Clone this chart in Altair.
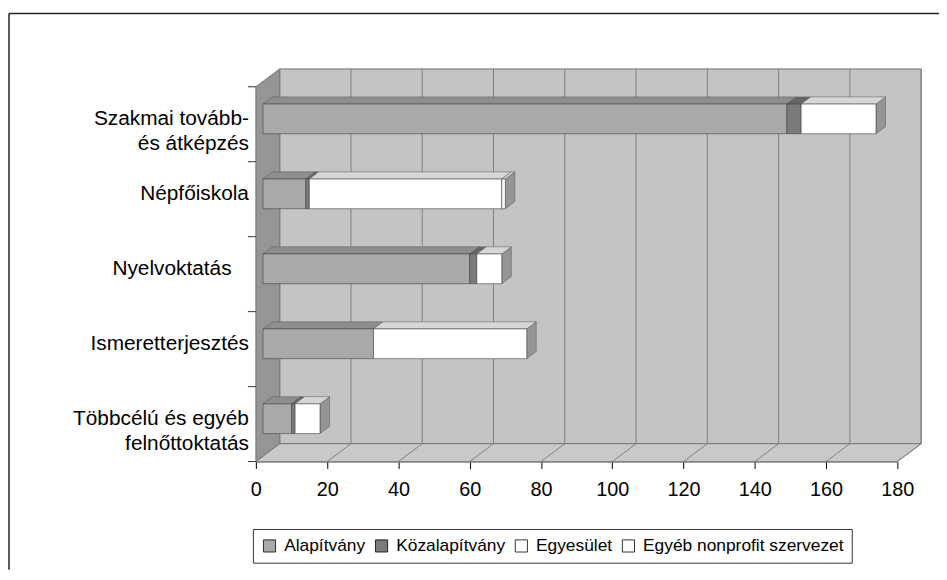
import altair as alt
import pandas as pd

# ---------------- data ----------------
categories = ["Szakmai tovább-\nés átképzés", "Népfőiskola", "Nyelvoktatás\u00a0\u00a0\u00a0\u200b",
              "Ismeretterjesztés", "Többcélú és egyéb\nfelnőttoktatás"]
series = ["Alapítvány", "Közalapítvány", "Egyesület", "Egyéb nonprofit szervezet"]
alapitvany = [147, 12, 58, 31, 8]
kozalapitvany = [4, 1, 2, 0, 1]
egyesulet = [21, 54, 7, 43, 7]
egyeb = [0, 1, 0, 0, 0]
x_ticks = [0, 20, 40, 60, 80, 100, 120, 140, 160, 180]

# ---------------- style ----------------
front_colors = ["#a9a9a9", "#7b7b7b", "#ffffff", "#fbfbfb"]
top_colors = ["#8e8e8e", "#666666", "#d6d6d6", "#d2d2d2"]
side_colors = ["#7a7a7a", "#575757", "#959595", "#959595"]
FONT = "Liberation Sans"

W, H = 647, 378
XMAX = 180
N = len(categories)
KX = XMAX / W
KY = N / H
DX, DY = 24 * KX, 18 * KY      # depth of the 3D box
FX, FY = 7.2 * KX, 5.4 * KY    # bar front-face shift
BX, BY = 9.6 * KX, 7.2 * KY    # bar depth
HALF = 15 * KY                 # half bar thickness

xscale = alt.Scale(domain=[0, XMAX], nice=False, zero=False)
yscale = alt.Scale(domain=[0, N], reverse=True, nice=False, zero=False)
xaxis = alt.Axis(values=x_ticks, title=None, grid=False, labelFontSize=20, labelFont=FONT,
                 labelColor="black", tickColor="black", tickSize=7, domainColor="#6a6a6a",
                 labelPadding=11, labelFlush=False, labelOffset=0)

# ---------------- geometry built from the data ----------------
vals = [alapitvany, kozalapitvany, egyesulet, egyeb]
front, top, side = [], [], []
for i in range(N):
    yc = i + 0.5 - FY
    yt, yb = yc - HALF, yc + HALF
    s = 0
    last = None
    for k, name in enumerate(series):
        v = vals[k][i]
        if v <= 0:
            continue
        e = s + v
        sid = f"{i}-{k}"
        front.append(dict(series=name, x=s + FX, x2=e + FX, y=yt, y2=yb))
        top.append(dict(id=sid, fill=top_colors[k], y=yt, x=s + FX, x2=e + FX))
        top.append(dict(id=sid, fill=top_colors[k], y=yt - BY, x=s + FX + BX, x2=e + FX + BX))
        last = (k, e)
        s = e
    k, e = last
    side.append(dict(id=f"s{i}", fill=side_colors[k], x=e + FX, y=yt, y2=yb))
    side.append(dict(id=f"s{i}", fill=side_colors[k], x=e + FX + BX, y=yt - BY, y2=yb - BY))

front_df = pd.DataFrame(front)
top_df = pd.DataFrame(top)
side_df = pd.DataFrame(side)

wall_df = pd.DataFrame([dict(x=DX, x2=XMAX + DX, y=-DY, y2=N - DY)])
left_df = pd.DataFrame([dict(id="l", x=0, y=0, y2=N), dict(id="l", x=DX, y=-DY, y2=N - DY)])
floor_df = pd.DataFrame([dict(id="f", y=N, x=0, x2=XMAX), dict(id="f", y=N - DY, x=DX, x2=XMAX + DX)])
grid_df = pd.DataFrame([dict(x=v + DX, y=-DY, y2=N - DY) for v in x_ticks])
fgrid_df = pd.DataFrame([dict(v=v, x=v, y=N) for v in x_ticks] +
                        [dict(v=v, x=v + DX, y=N - DY) for v in x_ticks])
lticks_df = pd.DataFrame([dict(y=k) for k in range(N + 1)])
labels_df = pd.DataFrame([dict(label=c, y=i + 0.5 - 5 * KY) for i, c in enumerate(categories)])
one = pd.DataFrame([dict(a=1)])

X = lambda f="x:Q": alt.X(f, scale=xscale, axis=xaxis, stack=None)
Y = lambda f="y:Q": alt.Y(f, scale=yscale, axis=None, stack=None)

wall = alt.Chart(wall_df).mark_rect(fill="#c4c4c4", stroke="#707070", strokeWidth=1).encode(
    x=X(), x2="x2:Q", y=Y(), y2="y2:Q")
leftwall = alt.Chart(left_df).mark_area(orient="vertical", fill="#959595", stroke="#606060",
                                         strokeWidth=0.8).encode(x=X(), y=Y(), y2="y2:Q", detail="id:N")
floor = alt.Chart(floor_df).mark_area(orient="horizontal", fill="#c9c9c9", stroke="#707070",
                                       strokeWidth=0.8).encode(y=Y(), x=X(), x2="x2:Q", detail="id:N")
grid = alt.Chart(grid_df).mark_rule(color="#808080", strokeWidth=1).encode(x=X(), y=Y(), y2="y2:Q")
fgrid = alt.Chart(fgrid_df).mark_line(color="#808080", strokeWidth=1).encode(x=X(), y=Y(), detail="v:N")
lticks = alt.Chart(lticks_df).mark_rule(color="#333333", strokeWidth=1).encode(
    x=alt.value(-8), x2=alt.value(0), y=Y())

sides = alt.Chart(side_df).mark_area(orient="vertical", stroke="#555555", strokeWidth=0.5).encode(
    x=X(), y=Y(), y2="y2:Q", fill=alt.Fill("fill:N", scale=None), detail="id:N")
tops = alt.Chart(top_df).mark_area(orient="horizontal", stroke="#555555", strokeWidth=0.5).encode(
    y=Y(), x=X(), x2="x2:Q", fill=alt.Fill("fill:N", scale=None), detail="id:N")
fronts = alt.Chart(front_df).mark_rect(stroke="#444444", strokeWidth=0.6).encode(
    x=X(), x2="x2:Q", y=Y(), y2="y2:Q",
    color=alt.Color("series:N", scale=alt.Scale(domain=series, range=front_colors),
                    legend=alt.Legend(orient="none", legendX=-3, legendY=446, direction="horizontal",
                                      columns=4, title=None, symbolType="square", symbolSize=150,
                                      symbolStrokeColor="black", symbolStrokeWidth=0.8,
                                      labelFontSize=17.5, labelFont=FONT, labelColor="black",
                                      labelLimit=500, columnPadding=7, padding=8,
                                      strokeColor="#333333", labelOffset=6)))

labels = alt.Chart(labels_df).mark_text(align="right", baseline="middle", fontSize=21, font=FONT,
                                         lineBreak="\n", lineHeight=25, color="black").encode(
    x=alt.value(-7), y=Y(), text="label:N")

frame_top = alt.Chart(one).mark_rule(color="#222222", strokeWidth=1.5).encode(
    x=alt.value(-249), x2=alt.value(689), y=alt.value(-74))
frame_left = alt.Chart(one).mark_rule(color="#222222", strokeWidth=1.5).encode(
    x=alt.value(-249), y=alt.value(-74), y2=alt.value(487))

chart = alt.layer(wall, leftwall, floor, grid, fgrid, lticks, sides, tops, fronts, labels,
                  frame_top, frame_left).properties(
    width=W, height=H,
    padding={"left": 250, "top": 77, "right": 42, "bottom": 117},
    autosize="none", background="white"
).configure_view(stroke=None).configure(font=FONT).configure_axis(
    labelFontSize=20, labelPadding=11, labelFont=FONT, labelColor="black")

chart.save("out.html", embed_options={"renderer": "svg", "actions": False})
